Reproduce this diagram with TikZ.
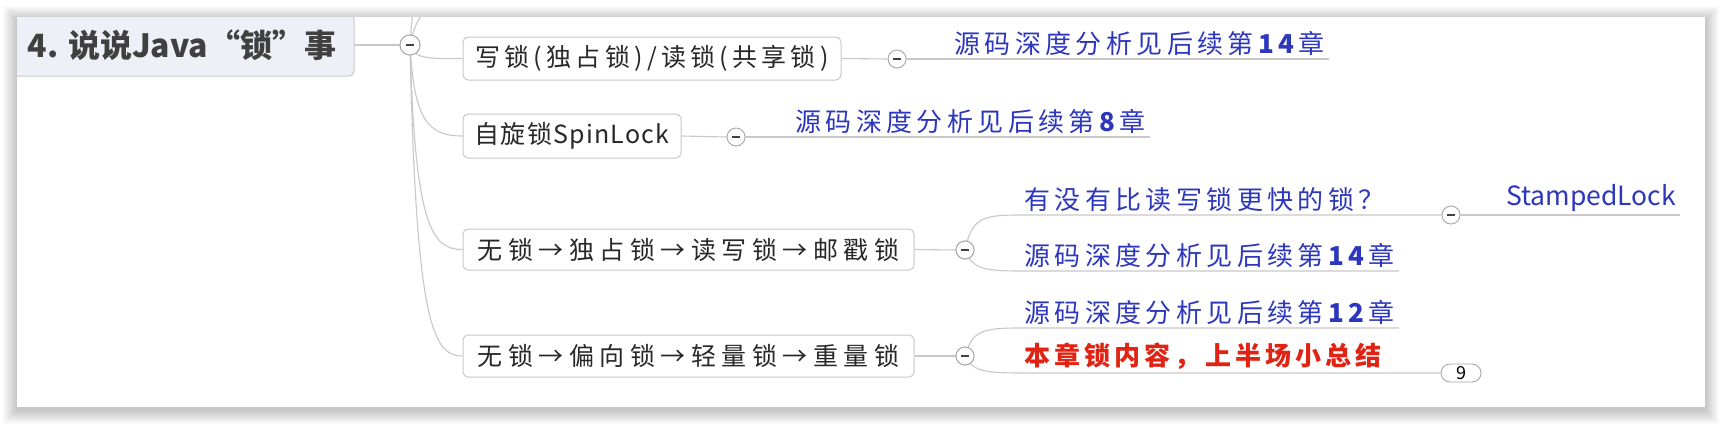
\documentclass[tikz,border=0pt]{standalone}
\usepackage{fontspec}
\setmainfont{Noto Sans CJK SC}
\definecolor{lk}{RGB}{200,200,200}
\definecolor{bl}{RGB}{45,55,190}
\definecolor{rd}{RGB}{225,35,20}
\definecolor{rootfill}{RGB}{238,240,247}
\definecolor{txt}{RGB}{40,40,40}
\newcommand{\ls}[1]{\addfontfeature{LetterSpace=#1}}
\tikzset{
  conn/.style={draw=lk, line width=1.1pt},
  box/.style={draw=lk, line width=1pt, rounded corners=5pt, fill=white, inner sep=0pt, text=txt,
    font=\fontsize{25}{28}\selectfont},
  circ/.style={circle, draw=black!35, line width=0.9pt, fill=white, minimum size=#1, inner sep=0pt,
    path picture={\draw[black!75, line width=1.5pt] ([xshift=-4pt]path picture bounding box.center) -- ([xshift=4pt]path picture bounding box.center);}},
  circ/.default=18pt,
  leaf/.style={inner xsep=4pt, inner ysep=3pt, text=bl, anchor=south west,
    font=\fontsize{26}{28}\selectfont\ls{17}},
  badge/.style={draw=black!35, line width=0.9pt, fill=white, rounded corners=9pt, minimum width=40pt,
    minimum height=18pt, inner sep=0pt, font=\fontsize{18}{18}\selectfont},
}
\begin{document}
\begin{tikzpicture}[x=1pt,y=-1pt]
\useasboundingbox (0,0) rectangle (1736,426);
\fill[white] (0,0) rectangle (1736,426);
% shadow of the panel
\foreach \i in {1,...,14}{
  \fill[black, opacity=0.014] (17-\i,17-\i+3) rectangle (1705+\i,407+\i+3);
}
\fill[white] (17,17) rectangle (1705,407);
\begin{scope}
\clip (17,17) rectangle (1705,407);
\node[draw=lk, line width=1pt, fill=rootfill, rounded corners=5pt, minimum width=344pt, minimum height=62pt,
  inner sep=0pt, text=black!75, font=\fontsize{32}{36}\selectfont\bfseries] (root) at (182,45) {4. 说说Java“锁”事};
\coordinate (top1) at (413,10);
\coordinate (top2) at (424,10);
\node[circ=20pt] (k0) at (410,45) {};
\draw[conn] (k0.center) .. controls (411,30) .. (top1);
\draw[conn] (k0.center) .. controls (414,28) .. (top2);
\end{scope}

% level-1 boxes
\node[box, minimum width=378pt, minimum height=43pt] (c1) at (652,58.5) {\ls{17}写锁(独占锁)/读锁(共享锁)};
\node[box, minimum width=218pt, minimum height=44pt] (c2) at (572,136) {\ls{5}自旋锁SpinLock};
\node[box, minimum width=451pt, minimum height=41pt] (c3) at (688.5,249.5) {\ls{22}无锁→独占锁→读写锁→邮戳锁};
\node[box, minimum width=451pt, minimum height=42pt] (c4) at (688.5,356) {\ls{22}无锁→偏向锁→轻量锁→重量锁};

\draw[conn] (root.east |- k0) -- (k0);
\draw[conn] (k0.center) .. controls (414,58) and (425,59) .. (c1.west);
\draw[conn] (k0.center) .. controls (414,120) and (428,136) .. (c2.west);
\draw[conn] (k0.center) .. controls (415,220) and (430,250) .. (c3.west);
\draw[conn] (k0.center) .. controls (416,320) and (432,356) .. (c4.west);
\node[circ=20pt] at (k0) {};

% collapse circles
\node[circ] (k1) at (897,59) {};
\node[circ] (k2) at (736,137) {};
\node[circ] (k3) at (965,250) {};
\node[circ] (k4) at (965,356) {};
\node[circ] (k31) at (1451,215) {};
\node[badge] (bd) at (1461,373) {9};

% leaves
\node[leaf] (l1) at (950,59) {源码深度分析见后续第\textbf{14}章};
\node[leaf] (l2) at (791,137) {源码深度分析见后续第\textbf{8}章};
\node[leaf] (l31) at (1020,215) {有没有比读写锁更快的锁？};
\node[leaf] (l32) at (1020,271) {源码深度分析见后续第\textbf{14}章};
\node[leaf] (l41) at (1020,328) {源码深度分析见后续第\textbf{12}章};
\node[leaf, text=rd, font=\fontsize{26}{28}\selectfont\bfseries\ls{16}] (l42) at (1020,373) {本章锁内容，上半场小总结};
\node[leaf, font=\fontsize{26.5}{28}\selectfont] (ls) at (1502,215) {StampedLock};

% connectors
\draw[conn] (c1.east) -- (k1.west);
\draw[conn] (k1.east) -- (l1.south west) -- (l1.south east);
\draw[conn] (c2.east) -- (k2.west);
\draw[conn] (k2.east) -- (l2.south west) -- (l2.south east);
\draw[conn] (c3.east) -- (k3.west);
\draw[conn] (k3.center) .. controls (972,218) and (982,215) .. (l31.south west) -- (k31.west);
\draw[conn] (k3.center) .. controls (972,268) and (982,271) .. (l32.south west) -- (l32.south east);
\draw[conn] (k31.east) -- (ls.south west) -- (ls.south east);
\draw[conn] (c4.east) -- (k4.west);
\draw[conn] (k4.center) .. controls (972,331) and (982,328) .. (l41.south west) -- (l41.south east);
\draw[conn] (k4.center) .. controls (972,370) and (982,373) .. (l42.south west) -- (bd.west);
\node[circ] at (k3) {};
\node[circ] at (k4) {};
\end{tikzpicture}
\end{document}
